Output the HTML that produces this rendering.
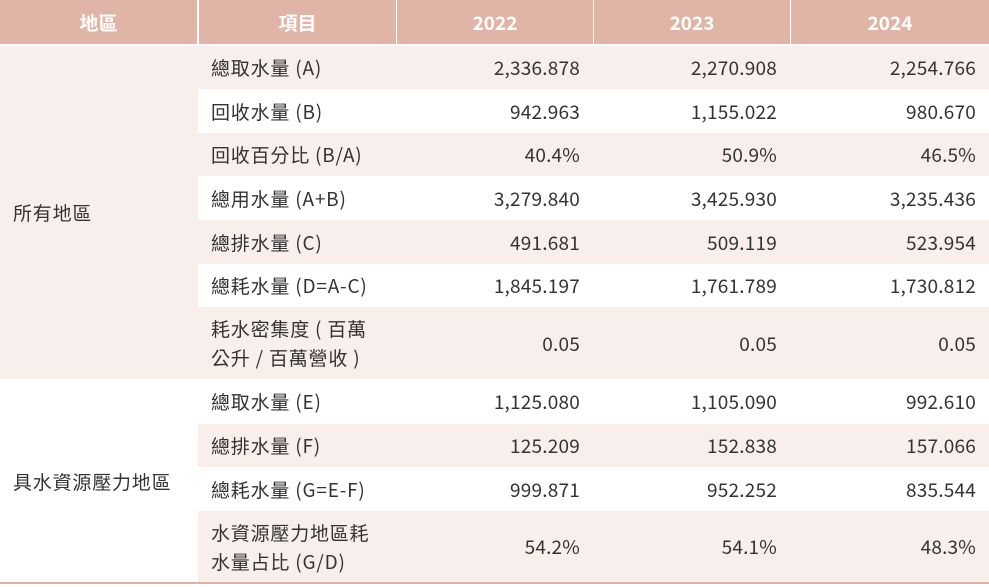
<!DOCTYPE html>
<html><head><meta charset="utf-8"><style>
body{margin:0;width:989px;height:587px;background:#fff;font-family:"Noto Sans CJK TC","Liberation Sans",sans-serif;color:#333;font-size:19px;position:relative;overflow:hidden}
div.c{position:absolute;box-sizing:border-box;display:flex;align-items:center}
.h{background:#e0b5a8;color:#fff;font-weight:bold;justify-content:center;font-size:19px}
.p{background:#f8efec}
.w{background:#fff}
.n{justify-content:flex-end;padding-right:13px;letter-spacing:0.2px}
.l{padding-left:13px;line-height:29px;letter-spacing:0.8px}
</style></head><body>
<div class="c h" style="left:0;top:0;width:197px;height:44px">地區</div>
<div class="c h" style="left:199px;top:0;width:197px;height:44px">項目</div>
<div class="c h" style="left:397px;top:0;width:196px;height:44px">2022</div>
<div class="c h" style="left:594px;top:0;width:196px;height:44px">2023</div>
<div class="c h" style="left:791px;top:0;width:198px;height:44px">2024</div>
<div class="c p l" style="left:0;top:46px;width:198px;height:333px">所有地區</div>
<div class="c w l" style="left:0;top:379px;width:198px;height:204px">具水資源壓力地區</div>
<div id="rows"></div>
<div style="position:absolute;left:0;top:582px;width:989px;height:2px;background:#d9b3a8"></div>
<script>
var r=[
["總取水量 (A)","2,336.878","2,270.908","2,254.766",46,89,"p"],
["回收水量 (B)","942.963","1,155.022","980.670",89,133,"w"],
["回收百分比 (B/A)","40.4%","50.9%","46.5%",133,176,"p"],
["總用水量 (A+B)","3,279.840","3,425.930","3,235.436",176,220,"w"],
["總排水量 (C)","491.681","509.119","523.954",220,264,"p"],
["總耗水量 (D=A-C)","1,845.197","1,761.789","1,730.812",264,307,"w"],
["耗水密集度 ( 百萬<br>公升 / 百萬營收 )","0.05","0.05","0.05",307,379,"p"],
["總取水量 (E)","1,125.080","1,105.090","992.610",379,424,"w"],
["總排水量 (F)","125.209","152.838","157.066",424,467,"p"],
["總耗水量 (G=E-F)","999.871","952.252","835.544",467,511,"w"],
["水資源壓力地區耗<br>水量占比 (G/D)","54.2%","54.1%","48.3%",511,582,"p"]];
var h="",xs=[[198,198],[396,197],[593,197],[790,199]];
r.forEach(function(a){
 h+='<div class="c '+a[6]+' l" style="left:198px;top:'+a[4]+'px;width:'+xs[0][1]+'px;height:'+(a[5]-a[4])+'px">'+a[0]+'</div>';
 for(var i=1;i<4;i++)h+='<div class="c '+a[6]+' n" style="left:'+xs[i][0]+'px;top:'+a[4]+'px;width:'+xs[i][1]+'px;height:'+(a[5]-a[4])+'px">'+a[i]+'</div>';
});
document.getElementById("rows").innerHTML=h;
</script>
</body></html>
